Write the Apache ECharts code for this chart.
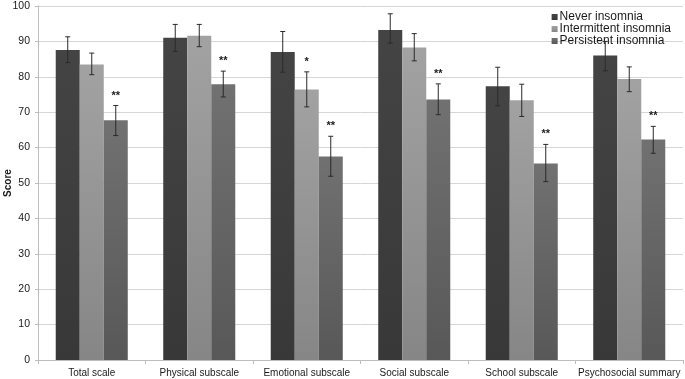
<!DOCTYPE html>
<html>
<head>
<meta charset="utf-8">
<script src="https://cdn.jsdelivr.net/npm/echarts@6/dist/echarts.min.js"></script>
<style>
  html, body { margin: 0; padding: 0; background: #fff; }
  #main { width: 685px; height: 379px; }
</style>
</head>
<body>
<div id="main"></div>
<script>
var categories = ['Total scale', 'Physical subscale', 'Emotional subscale', 'Social subscale', 'School subscale', 'Psychosocial summary']
var seriesNames = ['Never insomnia', 'Intermittent insomnia', 'Persistent insomnia']

// mean scores
var never = [87.6, 91.0, 87.0, 93.2, 77.3, 86.0]
var intermittent = [83.5, 91.6, 76.4, 88.3, 73.4, 79.4]
var persistent = [67.7, 77.9, 57.5, 73.6, 55.5, 62.3]

// error bar ends
var neverLow = [84.0, 87.2, 81.3, 89.5, 71.8, 81.7]
var neverHigh = [91.3, 94.8, 92.8, 97.8, 82.7, 90.0]
var intermittentLow = [80.6, 88.5, 71.5, 84.5, 68.8, 75.8]
var intermittentHigh = [86.7, 94.8, 81.4, 92.2, 77.9, 82.8]
var persistentLow = [63.4, 74.3, 51.9, 69.3, 50.4, 58.4]
var persistentHigh = [71.9, 81.6, 63.2, 78.0, 60.9, 66.0]

// significance marks
var intermittentSig = ['', '', '*', '', '', '']
var persistentSig = ['**', '**', '**', '**', '**', '**']

var yTicks = { min: 0, max: 100, interval: 10 }

var chartDom = document.getElementById('main')
var myChart = echarts.init(chartDom)
var option

var gap = 0.33

function grad(top, bottom) {
  return new echarts.graphic.LinearGradient(0, 0, 0, 1, [
    { offset: 0, color: top },
    { offset: 1, color: bottom }
  ])
}

function errorSeries(idx, low, high, sig) {
  var data = categories.map(function (c, i) {
    return [i, low[i], high[i], sig[i]]
  })
  return {
    type: 'custom',
    name: seriesNames[idx] + ' err',
    z: 10,
    silent: true,
    data: data,
    renderItem: function (params, api) {
      var i = api.value(0)
      var band = api.size([1, 0])[0]
      var barW = band * (1 - gap) / 3
      var lo = api.coord([i, api.value(1)])
      var hi = api.coord([i, api.value(2)])
      var x = lo[0] + (idx - 1) * barW
      var cap = 2.5
      var children = [
        { type: 'line', shape: { x1: x, y1: lo[1], x2: x, y2: hi[1] }, style: { stroke: '#2a2a2a', lineWidth: 1 } },
        { type: 'line', shape: { x1: x - cap, y1: lo[1], x2: x + cap, y2: lo[1] }, style: { stroke: '#2a2a2a', lineWidth: 1 } },
        { type: 'line', shape: { x1: x - cap, y1: hi[1], x2: x + cap, y2: hi[1] }, style: { stroke: '#2a2a2a', lineWidth: 1 } }
      ]
      var s = data[params.dataIndex][3]
      if (s) {
        children.push({
          type: 'text',
          style: {
            text: s, x: x, y: hi[1] - 10,
            align: 'center', verticalAlign: 'middle',
            font: 'bold 11px "Liberation Sans", Arial, sans-serif',
            fill: '#1a1a1a'
          }
        })
      }
      return { type: 'group', children: children }
    }
  }
}

var noSig = ['', '', '', '', '', '']

option = {
  animation: false,
  backgroundColor: '#ffffff',
  textStyle: { fontFamily: '"Liberation Sans", Arial, sans-serif' },
  grid: { left: 38, right: 2, top: 6, bottom: 19, outerBoundsMode: 'none', containLabel: false },
  legend: {
    data: seriesNames,
    orient: 'vertical',
    right: 9,
    top: 6,
    itemWidth: 6,
    itemHeight: 6,
    itemGap: 0,
    icon: 'rect',
    textStyle: { fontSize: 12, color: '#1a1a1a', padding: [0, 0, 0, -3], lineHeight: 11.5 }
  },
  xAxis: {
    type: 'category',
    data: categories,
    axisLine: { lineStyle: { color: '#bdbdbd' } },
    axisTick: { show: true, length: 4, lineStyle: { color: '#bdbdbd' } },
    axisLabel: { interval: 0, fontSize: 10, color: '#1a1a1a', margin: 8 }
  },
  yAxis: {
    type: 'value',
    min: yTicks.min,
    max: yTicks.max,
    interval: yTicks.interval,
    name: 'Score',
    nameLocation: 'middle',
    nameGap: 25,
    nameMoveOverlap: false,
    nameTextStyle: { fontSize: 10, fontWeight: 'bold', color: '#1a1a1a' },
    axisLine: { show: true, lineStyle: { color: '#bdbdbd' } },
    axisTick: { show: true, length: 3, lineStyle: { color: '#bdbdbd' } },
    axisLabel: { fontSize: 10.5, color: '#1a1a1a', margin: 8 },
    splitLine: { lineStyle: { color: '#d6d6d6' } }
  },
  series: [
    { type: 'bar', name: seriesNames[0], data: never, barGap: 0, barCategoryGap: '33%', itemStyle: { color: grad('#444444', '#383838') } },
    { type: 'bar', name: seriesNames[1], data: intermittent, itemStyle: { color: grad('#a2a2a2', '#868686') } },
    { type: 'bar', name: seriesNames[2], data: persistent, itemStyle: { color: grad('#717171', '#585858') } },
    errorSeries(0, neverLow, neverHigh, noSig),
    errorSeries(1, intermittentLow, intermittentHigh, intermittentSig),
    errorSeries(2, persistentLow, persistentHigh, persistentSig)
  ]
}

option && myChart.setOption(option)
</script>
</body>
</html>
